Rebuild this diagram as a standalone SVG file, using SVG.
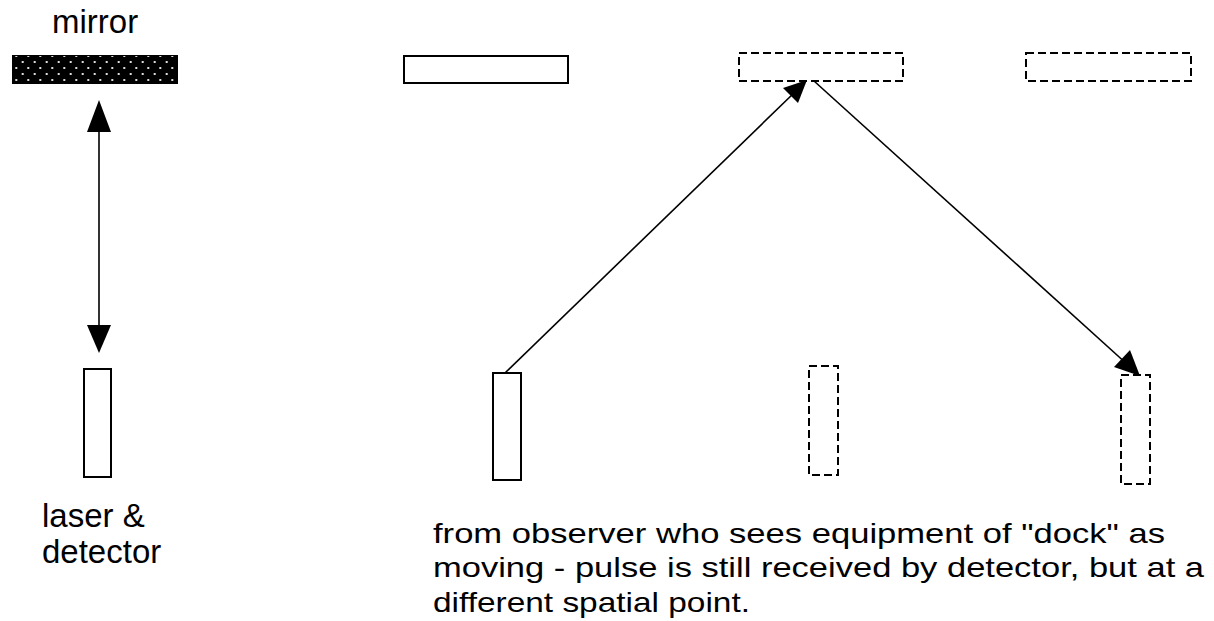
<svg xmlns="http://www.w3.org/2000/svg" width="1214" height="621" viewBox="0 0 1214 621">
<style>
.lbl{font-family:"Liberation Sans",Arial,sans-serif;fill:#000}
.big{font-size:33px}
.small{font-size:28px}
.solid{fill:#fff;stroke:#000;stroke-width:2}
.dash{fill:#fff;stroke:#000;stroke-width:2;stroke-dasharray:8 4}
.ray{stroke:#000;stroke-width:1.6;fill:none}
.head{fill:#000;stroke:none}
</style>
<defs>
<pattern id="dots" patternUnits="userSpaceOnUse" x="0" y="0" width="12" height="12">
<rect width="12" height="12" fill="#000"/>
<rect x="9.7" y="1" width="2" height="2" fill="#ddd"/>
<rect x="3.3" y="7" width="2" height="2" fill="#ddd"/>
</pattern>
</defs>
<rect width="1214" height="621" fill="#fff"/>

<g id="mirror-label"><text class="lbl big" x="52" y="33">mirror</text></g>
<g id="mirror"><rect x="12.5" y="55.5" width="165" height="28" fill="url(#dots)" stroke="#000" stroke-width="1"/></g>
<g id="laser-detector"><rect class="solid" x="84" y="369" width="27" height="108"/></g>
<g id="laser-label">
<text class="lbl big" x="42" y="527">laser &amp;</text>
<text class="lbl big" x="42" y="563">detector</text>
</g>

<g id="mirror-1"><rect class="solid" x="404" y="56" width="164" height="27"/></g>
<g id="mirror-2"><rect class="dash" x="739" y="53" width="164" height="28"/></g>
<g id="mirror-3"><rect class="dash" x="1026" y="53" width="165" height="28"/></g>
<g id="detector-1"><rect class="solid" x="493" y="373" width="28" height="107"/></g>
<g id="detector-2"><rect class="dash" x="809" y="366" width="29" height="109"/></g>
<g id="detector-3"><rect class="dash" x="1121" y="375" width="29" height="109"/></g>

<g id="connectors">
<line class="ray" x1="99" y1="128" x2="99" y2="330"/>
<polygon class="head" points="99,100 111,132 87,132"/>
<polygon class="head" points="99,353 111,325 87,325"/>
<line class="ray" x1="505" y1="373" x2="795" y2="92"/>
<polygon class="head" points="807,80 798,103 783,88"/>
<line class="ray" x1="814" y1="81" x2="1128" y2="365"/>
<polygon class="head" points="1140,376 1114,367 1130,350"/>
</g>

<g id="caption">
<text class="lbl small" x="433" y="543" textLength="732" lengthAdjust="spacingAndGlyphs">from observer who sees equipment of "dock" as</text>
<text class="lbl small" x="433" y="577" textLength="771" lengthAdjust="spacingAndGlyphs">moving - pulse is still received by detector, but at a</text>
<text class="lbl small" x="433" y="612" textLength="317" lengthAdjust="spacingAndGlyphs">different spatial point.</text>
</g>
</svg>
